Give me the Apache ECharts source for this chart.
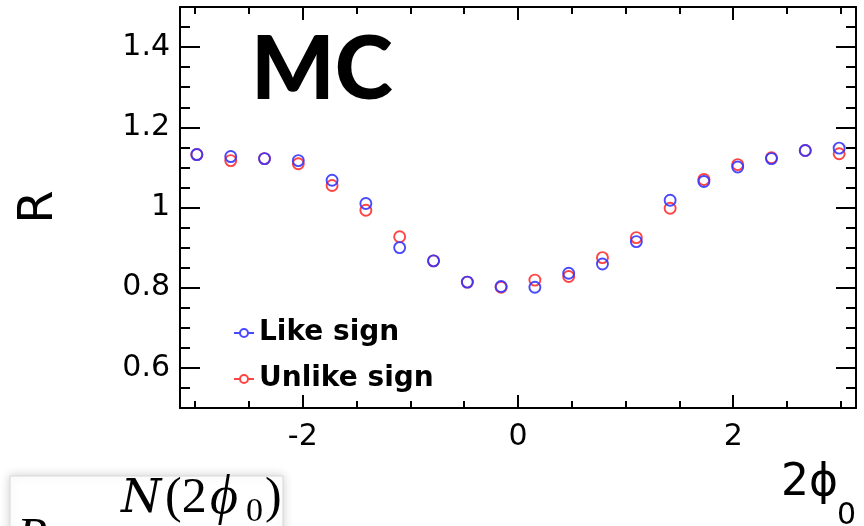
<!DOCTYPE html>
<html>
<head>
<meta charset="utf-8">
<script src="https://cdn.jsdelivr.net/npm/echarts@6/dist/echarts.min.js"></script>
<style>
  html, body { margin: 0; padding: 0; background: #fff; }
  #chart { width: 864px; height: 526px; }
</style>
</head>
<body>
<div id="chart"></div>
<script>
  // 2phi0 bin centres (20 bins over -pi..pi)
  const phiBins = [-2.985, -2.670, -2.356, -2.042, -1.728, -1.414, -1.100, -0.785, -0.471, -0.157,
                   0.157, 0.471, 0.785, 1.100, 1.414, 1.728, 2.042, 2.356, 2.670, 2.985];
  const likeSign = [1.132, 1.127, 1.122, 1.117, 1.068, 1.010, 0.900, 0.867, 0.814, 0.803,
                    0.801, 0.836, 0.859, 0.915, 1.018, 1.065, 1.101, 1.122, 1.142, 1.148];
  const unlikeSign = [1.132, 1.117, 1.122, 1.109, 1.055, 0.993, 0.927, 0.867, 0.814, 0.801,
                      0.819, 0.828, 0.875, 0.925, 0.998, 1.070, 1.107, 1.124, 1.142, 1.134];
  const seriesNames = ['Like sign', 'Unlike sign'];

  const xMajorTicks = [-2, 0, 2];
  const xMinorTicks = [-3, -2.5, -2, -1.5, -1, -0.5, 0, 0.5, 1, 1.5, 2, 2.5, 3];
  const yMajorTicks = [0.6, 0.8, 1, 1.2, 1.4];
  const yMinorTicks = [0.55, 0.6, 0.65, 0.7, 0.75, 0.8, 0.85, 0.9, 0.95, 1, 1.05, 1.1,
                       1.15, 1.2, 1.25, 1.3, 1.35, 1.4, 1.45];

  const xRange = [-Math.PI, Math.PI];
  const yRange = [0.5, 1.5];

  const labelFont = { fontFamily: 'DejaVu Sans', fontSize: 30, color: '#000' };
  const serif = '"Liberation Serif", "DejaVu Serif", serif';

  // one side of the ROOT-style frame; major and minor ticks go on separate overlaid axes
  function frameAxis(range, position, ticks, len, withLine, labels) {
    return {
      type: 'value',
      min: range[0],
      max: range[1],
      position: position,
      offset: 0,
      splitLine: { show: false },
      axisLine: { show: withLine, onZero: false, lineStyle: { color: '#000', width: 2 } },
      axisTick: { show: true, inside: true, length: len, customValues: ticks,
                  lineStyle: { color: '#000', width: 2 } },
      axisLabel: labels
        ? Object.assign({ show: true, customValues: labels, margin: position === 'left' ? 10 : 14 }, labelFont)
        : { show: false }
    };
  }

  const chart = echarts.init(document.getElementById('chart'));
  chart.setOption({
    backgroundColor: '#fff',
    animation: false,
    grid: { left: 180, right: 8, top: 7, bottom: 118 },
    xAxis: [
      frameAxis(xRange, 'bottom', xMajorTicks, 13, true, xMajorTicks),
      frameAxis(xRange, 'bottom', xMinorTicks, 7, false),
      frameAxis(xRange, 'top', xMajorTicks, 13, true),
      frameAxis(xRange, 'top', xMinorTicks, 7, false)
    ],
    yAxis: [
      frameAxis(yRange, 'left', yMajorTicks, 20, true, yMajorTicks),
      frameAxis(yRange, 'left', yMinorTicks, 10, false),
      frameAxis(yRange, 'right', yMajorTicks, 20, true),
      frameAxis(yRange, 'right', yMinorTicks, 10, false)
    ],
    legend: {
      data: seriesNames,
      orient: 'vertical',
      left: 228,
      top: 313,
      itemWidth: 20,
      itemHeight: 9,
      itemGap: 16,
      icon: 'path://M0,5 L6,5 M14,5 L20,5 M6,5 A4,4 0 1 1 14,5 A4,4 0 1 1 6,5 Z',
      textStyle: { fontFamily: 'DejaVu Sans', fontWeight: 'bold', fontSize: 28, color: '#000', lineHeight: 30 }
    },
    series: [
      {
        name: 'Unlike sign',
        type: 'scatter',
        symbol: 'circle',
        symbolSize: 11,
        itemStyle: { color: 'rgba(0,0,0,0)', borderColor: '#ff3030', borderWidth: 1.9, opacity: 0.9 },
        data: phiBins.map((x, i) => [x, unlikeSign[i]])
      },
      {
        name: 'Like sign',
        type: 'scatter',
        symbol: 'circle',
        symbolSize: 11,
        itemStyle: { color: 'rgba(0,0,0,0)', borderColor: '#3535ff', borderWidth: 1.9, opacity: 0.9 },
        data: phiBins.map((x, i) => [x, likeSign[i]])
      }
    ],
    graphic: [
      { type: 'text', left: 251, top: 27,
        style: { text: 'MC', fontFamily: 'Lato', fontWeight: 900, fontSize: 88, fill: '#000' } },
      { type: 'text', x: 40, y: 207, rotation: Math.PI / 2,
        style: { text: 'R', fontFamily: 'DejaVu Sans', fontSize: 48, fill: '#000',
                 align: 'center', verticalAlign: 'middle' } },
      { type: 'text', x: 781, y: 484,
        style: { text: '2\u03d5', fontFamily: 'DejaVu Sans', fontSize: 44, fill: '#000', verticalAlign: 'middle' } },
      { type: 'text', x: 837, y: 516,
        style: { text: '0', fontFamily: 'DejaVu Sans', fontSize: 30, fill: '#000', verticalAlign: 'middle' } },
      { type: 'rect', shape: { x: 10, y: 476, width: 273, height: 70 },
        style: { fill: '#fff', stroke: '#d8d8d8', lineWidth: 1, shadowBlur: 10, shadowColor: 'rgba(0,0,0,0.18)' } },
      { type: 'text', x: 121, y: 500,
        style: { text: 'N', fontFamily: '"DejaVu Serif", serif', fontStyle: 'italic', fontSize: 46, fill: '#000', verticalAlign: 'middle' } },
      { type: 'text', x: 165, y: 499,
        style: { text: '(2', fontFamily: serif, fontSize: 50, fill: '#000', verticalAlign: 'middle' } },
      { type: 'text', x: 210, y: 499,
        style: { text: '\u03d5', fontFamily: serif, fontStyle: 'italic', fontSize: 54, fill: '#000', verticalAlign: 'middle' } },
      { type: 'text', x: 246, y: 512,
        style: { text: '0', fontFamily: serif, fontSize: 34, fill: '#000', verticalAlign: 'middle' } },
      { type: 'text', x: 265, y: 499,
        style: { text: ')', fontFamily: serif, fontSize: 50, fill: '#000', verticalAlign: 'middle' } },
      { type: 'text', x: 17, y: 539,
        style: { text: 'R', fontFamily: serif, fontStyle: 'italic', fontSize: 50, fill: '#000', verticalAlign: 'middle' } }
    ]
  });
</script>
</body>
</html>
